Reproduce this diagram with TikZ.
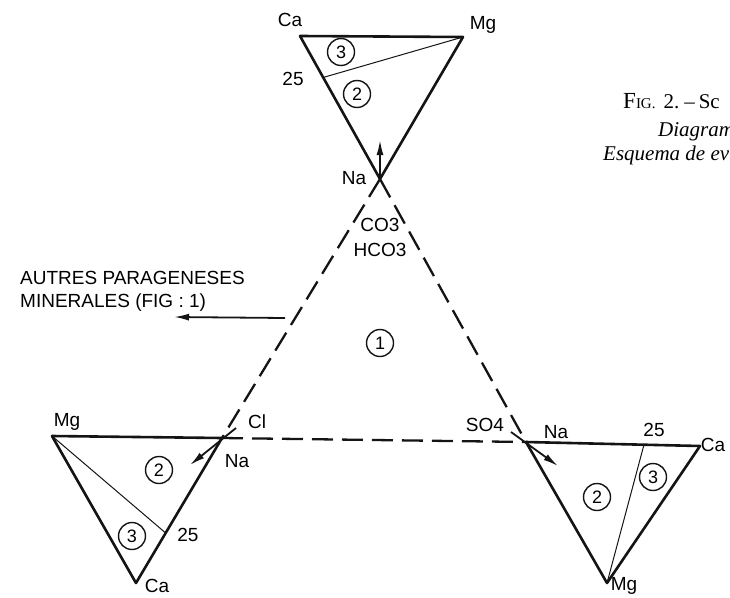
\documentclass[tikz,border=0pt]{standalone}
\usepackage{fontspec}
\setmainfont{Liberation Serif}
\setsansfont{Liberation Sans}
\usetikzlibrary{calc,arrows.meta}
\newcommand{\Unit}{1pt}
\newcommand{\Edge}{2.6pt}
\newcommand{\Thin}{1pt}
\definecolor{ink}{HTML}{141414}

\tikzset{
  side/.style={ink,line width=\Edge},
  split/.style={ink,line width=\Thin},
  link/.style={ink,line width=2.3pt,dash pattern=on 21pt off 9pt},
  push/.style={ink,line width=1.8pt,-{Latex[length=15pt,width=7pt]}},
  field/.style={circle,draw=ink,line width=1.4pt,minimum size=27pt,inner sep=0pt,
    font=\sffamily\fontsize{18}{18}\selectfont},
  ion/.style={inner sep=0pt,anchor=base,font=\sffamily\fontsize{19}{19}\selectfont},
  captext/.style={inner sep=0pt,anchor=base west,font=\fontsize{21}{21}\selectfont},
}

\begin{document}
\begin{tikzpicture}[x=\Unit,y=-\Unit, line join=round, line cap=butt]

  \useasboundingbox (0,0) rectangle (730,597);
  \clip (0,0) rectangle (730,597);

  % ---- corners of the three triangles ----------------------------------
  \coordinate (tCa) at (300,36);
  \coordinate (tMg) at (463,37);
  \coordinate (tNa) at (380,179);
  \coordinate (lMg) at (52,436);
  \coordinate (lNa) at (222,438);
  \coordinate (lCa) at (136,583);
  \coordinate (rNa) at (526,442);
  \coordinate (rCa) at (700,446);
  \coordinate (rMg) at (607,583);
  \coordinate (t25) at ($(tCa)!0.29!(tNa)$);
  \coordinate (l25) at ($(lNa)!0.655!(lCa)$);
  \coordinate (r25) at ($(rNa)!0.678!(rCa)$);

  % ---- the big dashed triangle -----------------------------------------
  \draw[link] (tNa) -- (lNa);
  \draw[link] (tNa) -- (rNa);
  \draw[link] (lNa) -- (rNa);

  % ---- the three small triangles ---------------------------------------
  \draw[side] (tCa) -- (tMg) -- (tNa) -- cycle;
  \draw[split] (t25) -- (tMg);
  \draw[side] (lMg) -- (lNa) -- (lCa) -- cycle;
  \draw[split] (l25) -- (lMg);
  \draw[side] (rNa) -- (rCa) -- (rMg) -- cycle;
  \draw[split] (r25) -- (rMg);

  % ---- arrows out of the corners ---------------------------------------
  \coordinate (tTip) at (380,140);
  \coordinate (lTail) at (236,428);
  \coordinate (lTip) at (190,465);
  \coordinate (rTail) at (511,432);
  \coordinate (rTip) at (558,466);
  \coordinate (oTail) at (285,318);
  \coordinate (oTip) at (174,317);
  \draw[push] (tNa) -- (tTip);
  \draw[push] (lTail) -- (lTip);
  \draw[push] (rTail) -- (rTip);
  \draw[push] (oTail) -- (oTip);

  % ---- fields ----------------------------------------------------------
  \node[field] (one) at (380,343) {1};
  \node[field] (tTwo) at (357,94) {2};
  \node[field] (tThree) at (341,52) {3};
  \node[field] (lTwo) at (159,470) {2};
  \node[field] (lThree) at (132,536) {3};
  \node[field] (rTwo) at (597,497) {2};
  \node[field] (rThree) at (653,477) {3};

  % ---- labels ----------------------------------------------------------
  \node[ion] (tCaL) at (290,27) {Ca};
  \node[ion] (tMgL) at (483,29) {Mg};
  \node[ion] (t25L) at (293,85) {25};
  \node[ion] (tNaL) at (354,184) {Na};
  \node[ion] (co) at (380,231) {CO3};
  \node[ion] (hco) at (380,256) {HCO3};
  \node[ion] (lMgL) at (67,426) {Mg};
  \node[ion] (cl) at (257,428) {Cl};
  \node[ion] (lNaL) at (237,467) {Na};
  \node[ion] (l25L) at (188,541) {25};
  \node[ion] (lCaL) at (157,592) {Ca};
  \node[ion] (so) at (485,431) {SO4};
  \node[ion] (rNaL) at (556,438) {Na};
  \node[ion] (r25L) at (654,436) {25};
  \node[ion] (rCaL) at (713,451) {Ca};
  \node[ion] (rMgL) at (624,590) {Mg};
  \node[ion,anchor=base west] (other) at (20,284) {AUTRES PARAGENESES};
  \node[ion,anchor=base west] (minerals) at (20,307) {MINERALES (FIG : 1)};

  % ---- caption, cut by the edge ----------------------------------------
  \node[captext] (fig) at (623,108) {{\fontsize{23}{23}\selectfont F}{\fontsize{15}{15}\selectfont IG.}\hspace{8pt}2.\hspace{5pt}–\hspace{4pt}Sc};
  \node[captext] (diag) at (658,136) {\itshape Diagram};
  \node[captext] (esq) at (603,160) {\itshape Esquema de ev};

\end{tikzpicture}
\end{document}
